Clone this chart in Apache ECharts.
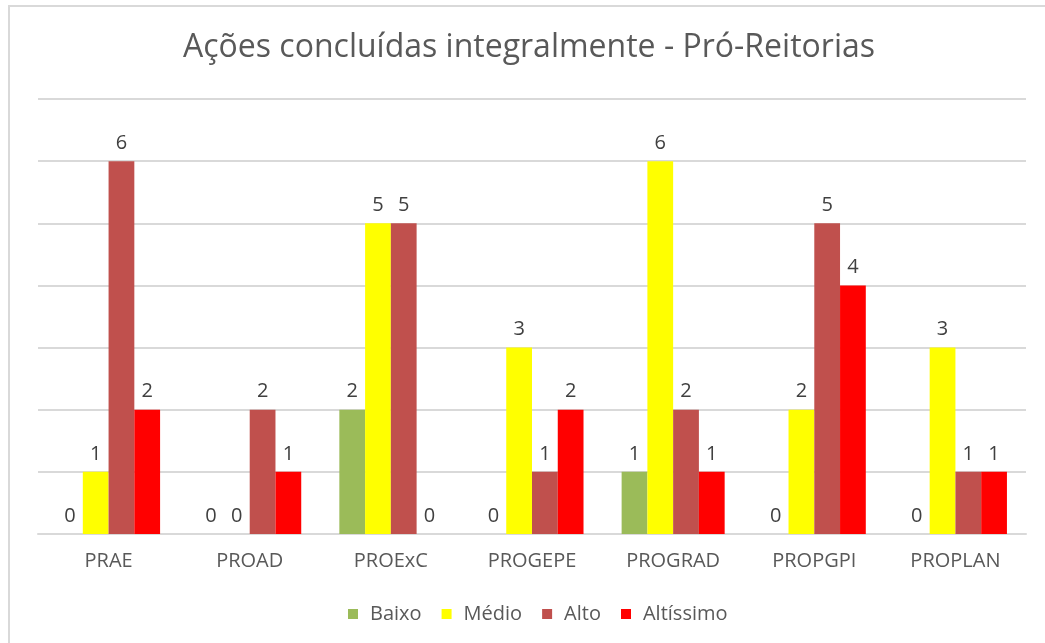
<!DOCTYPE html>
<html>
<head>
<meta charset="utf-8">
<script src="https://cdn.jsdelivr.net/npm/echarts@6/dist/echarts.min.js"></script>
<style>
  body { margin: 0; background: #fff; }
  #frame { position: absolute; left: 8px; top: 5px; width: 1045px; height: 650px; border: 2px solid #d9d9d9; box-sizing: border-box; }
  #chart { position: absolute; left: 0; top: 0; width: 1045px; height: 643px; }
</style>
</head>
<body>
<div id="frame"></div>
<div id="chart"></div>
<script>
// categorias (Pró-Reitorias)
var categorias = ['PRAE', 'PROAD', 'PROExC', 'PROGEPE', 'PROGRAD', 'PROPGPI', 'PROPLAN'];
// ações concluídas por nível
var baixo = [0, 0, 2, 0, 1, 0, 0];
var medio = [1, 0, 5, 3, 6, 2, 3];
var alto = [6, 2, 5, 1, 2, 5, 1];
var altissimo = [2, 1, 0, 2, 1, 4, 1];

var fonte = 'Open Sans, Noto Sans, sans-serif';
var chart = echarts.init(document.getElementById('chart'));

function serie(nome, dados, cor) {
	return {
		name: nome,
		type: 'bar',
		data: dados,
		barGap: '0%',
		barCategoryGap: '27%',
		itemStyle: { color: cor },
		label: {
			show: true,
			position: 'top',
			distance: 8,
			color: '#404040',
			fontSize: 20,
			fontFamily: fonte
		}
	};
}

chart.setOption({
	animation: false,
	title: {
		text: 'Ações concluídas integralmente - Pró-Reitorias',
		left: 178,
		top: 27,
		textStyle: { fontSize: 32, fontWeight: 'normal', color: '#595959', fontFamily: fonte }
	},
	legend: {
		bottom: 14,
		left: 343,
		icon: 'rect',
		itemWidth: 10,
		itemHeight: 10,
		itemGap: 20,
		textStyle: { color: '#595959', fontSize: 20, fontFamily: fonte, padding: [0, 0, 0, 7] },
		data: ['Baixo', 'Médio', 'Alto', 'Altíssimo']
	},
	grid: { left: 38, right: 19, top: 99, bottom: 109 },
	xAxis: {
		type: 'category',
		data: categorias,
		axisTick: { show: false },
		axisLine: { lineStyle: { color: '#d9d9d9', width: 2 } },
		axisLabel: { color: '#595959', fontSize: 20, margin: 17, fontFamily: fonte }
	},
	yAxis: {
		type: 'value',
		min: 0,
		max: 7,
		interval: 1,
		axisLabel: { show: false },
		axisLine: { show: false },
		axisTick: { show: false },
		splitLine: { lineStyle: { color: '#d9d9d9', width: 2 } }
	},
	series: [
		serie('Baixo', baixo, '#9bbb59'),
		serie('Médio', medio, '#ffff00'),
		serie('Alto', alto, '#c0504d'),
		serie('Altíssimo', altissimo, '#ff0000')
	]
});
</script>
</body>
</html>
